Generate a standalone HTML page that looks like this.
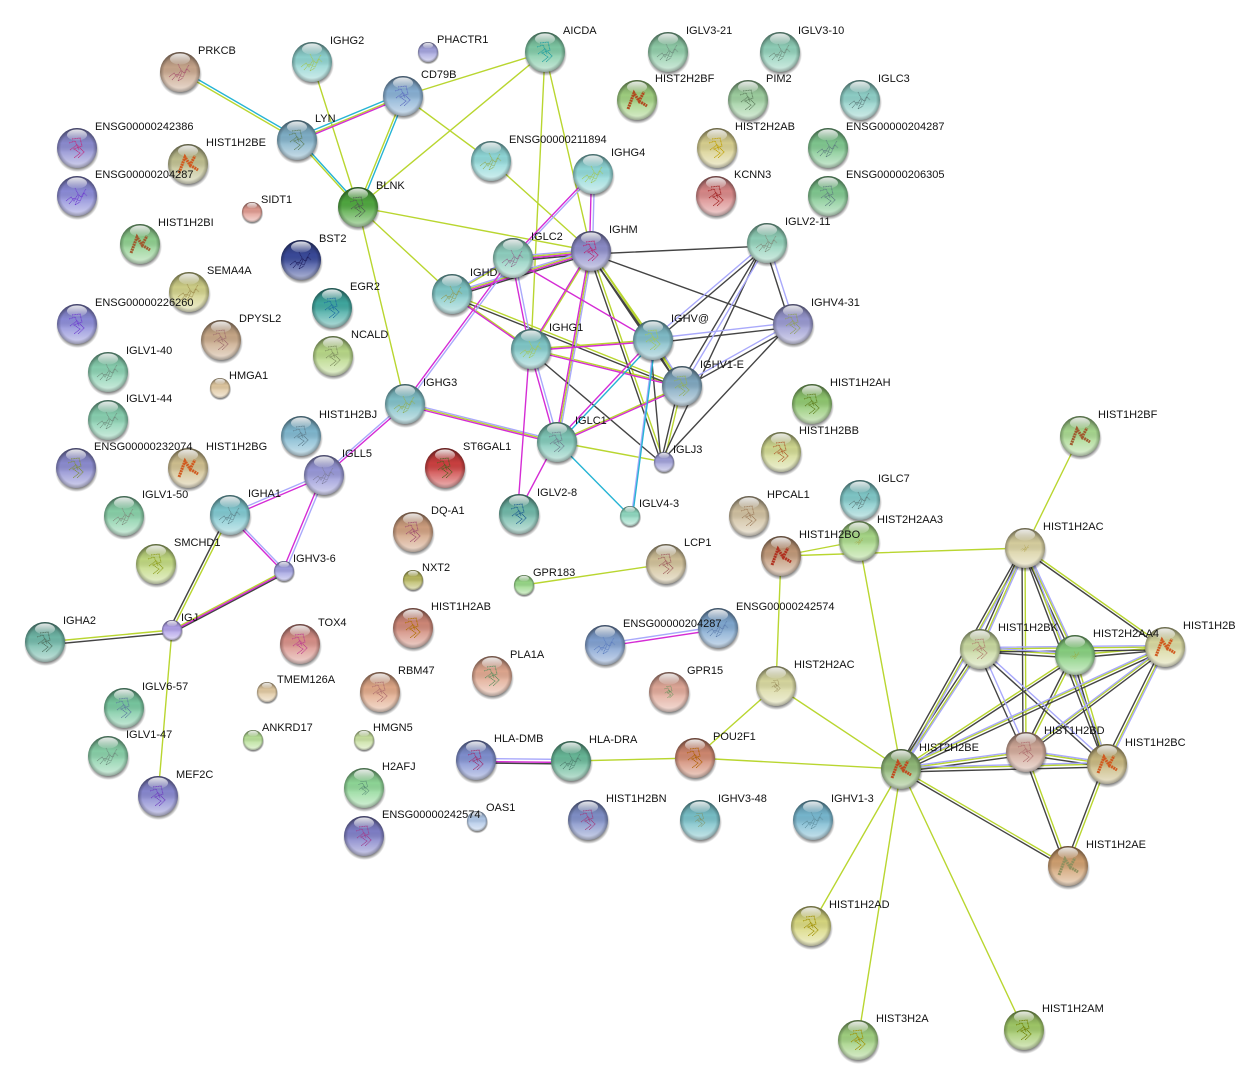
<!DOCTYPE html>
<html><head><meta charset="utf-8"><style>
html,body{margin:0;padding:0;background:#fff}
svg{display:block}
text{font:11px "Liberation Sans",Arial,sans-serif;fill:#111}
path.e{fill:none;stroke-width:1.4}
</style></head><body>
<svg width="1235" height="1085" viewBox="0 0 1235 1085" xmlns="http://www.w3.org/2000/svg">
<defs>
<linearGradient id="ov" x1="0" y1="0" x2="0" y2="1"><stop offset="0" stop-color="#000" stop-opacity=".34"/><stop offset=".38" stop-color="#000" stop-opacity=".02"/><stop offset=".6" stop-color="#fff" stop-opacity=".18"/><stop offset="1" stop-color="#fff" stop-opacity=".62"/></linearGradient>
<radialGradient id="rim" cx=".5" cy=".5" r=".5"><stop offset=".8" stop-color="#000" stop-opacity="0"/><stop offset="1" stop-color="#000" stop-opacity=".3"/></radialGradient>
<radialGradient id="sh" cx=".5" cy=".5" r=".5"><stop offset=".82" stop-color="#000" stop-opacity=".5"/><stop offset="1" stop-color="#000" stop-opacity="0"/></radialGradient>
<linearGradient id="hl" x1="0" y1="0" x2="0" y2="1"><stop offset="0" stop-color="#fff" stop-opacity=".85"/><stop offset="1" stop-color="#fff" stop-opacity=".12"/></linearGradient>
<g id="n"><circle cx=".5" cy="2.5" r="21.5" fill="url(#sh)"/><circle r="20" fill="currentColor"/><circle r="20" fill="url(#ov)"/><circle r="20" fill="url(#rim)"/><ellipse cy="-13" rx="10" ry="5.5" fill="url(#hl)"/></g>
<g id="s"><circle cx=".3" cy="1.5" r="11" fill="url(#sh)"/><circle r="10" fill="currentColor"/><circle r="10" fill="url(#ov)"/><circle r="10" fill="url(#rim)"/><ellipse cy="-6.5" rx="5" ry="2.8" fill="url(#hl)"/></g>
<path id="h" d="M-9 9-3-7 2 1 7-8M2 1 10 6" fill="none" stroke="currentColor" stroke-width="3" stroke-dasharray="2 .6"/>
<path id="p" d="M-11 5-6 1-3 5 1-2 4 1 9-7M-8 8-3 2 3 5 7-3 10 0M-2-8 2 0-2 9 3 6" fill="none" stroke="currentColor" stroke-width=".8" stroke-dasharray="1.1 .5"/>
<path id="q" d="M-5-9 3-10 5-2-3 1 3 5-3 10M-7 2 0-3 7 4 1 10M-8-5-2-7 2 2" fill="none" stroke="currentColor" stroke-width=".9" stroke-dasharray="1.1 .5"/>
</defs>

<!-- edges: green -->
<path class="e" stroke="#b9d630" d="M180 72 297 140M297 140 403 96M403 96 545 52M403 96 491 161M358 207 545 52M358 207 591 251M358 207 452 294M491 161 591 251M513 258 591 251M452 294 591 251M452 294 513 258M452 294 531 349M452 294 682 386M531 349 653 340M531 349 682 386M682 386 557 442M405 404 557 442M557 442 664 462M284 571 172 630M172 630 45 642M524 585 666 564M571 761 695 758M695 758 901 769M695 758 776 686M776 686 901 769M781 556 859 541M781 556 1025 548M1025 548 1165 647M980 649 1075 655M980 649 1165 647M1075 655 1165 647M1075 655 901 769M1165 647 1026 752M1165 647 901 769M1026 752 1107 764M1026 752 901 769M1107 764 901 769M901 769 1068 866"/>
<path class="e" stroke="#b9d630" d="M297 140 358 207M312 62 358 207M403 96 358 207M545 52 591 251M545 52 531 349M358 207 405 404M531 349 591 251M591 251 653 340M591 251 682 386M591 251 557 442M591 251 664 462M653 340 682 386M682 386 664 462M172 630 230 515M172 630 158 796M776 686 781 556M859 541 901 769M1080 436 1025 548M1025 548 980 649M1025 548 1075 655M1025 548 1026 752M1025 548 1107 764M1025 548 901 769M980 649 901 769M1075 655 1026 752M1075 655 1107 764M1165 647 1107 764M1026 752 1068 866M1107 764 1068 866M901 769 811 926M901 769 858 1040M901 769 1024 1030"/>
<!-- edges: black -->
<g transform="translate(0,3)"><path class="e" stroke="#444" d="M513 258 591 251M452 294 591 251M452 294 682 386M531 349 664 462M591 251 767 243M591 251 793 324M653 340 767 243M653 340 793 324M682 386 793 324M284 571 172 630M172 630 45 642M476 760 571 761M1025 548 1165 647M980 649 1075 655M980 649 1165 647M980 649 1107 764M1075 655 1165 647M1075 655 901 769M1165 647 1026 752M1165 647 901 769M1026 752 1107 764M1026 752 901 769M1107 764 901 769M901 769 1068 866"/></g>
<g transform="translate(-3,0)"><path class="e" stroke="#444" d="M591 251 653 340M591 251 682 386M591 251 664 462M653 340 682 386M653 340 664 462M682 386 767 243M682 386 664 462M767 243 793 324M767 243 664 462M793 324 664 462M172 630 230 515M1025 548 980 649M1025 548 1075 655M1025 548 1026 752M1025 548 1107 764M1025 548 901 769M980 649 1026 752M980 649 901 769M1075 655 1026 752M1075 655 1107 764M1165 647 1107 764M1026 752 1068 866M1107 764 1068 866"/></g>
<!-- edges: purple -->
<g transform="translate(0,-1.5)"><path class="e" stroke="#a9a9fb" d="M513 258 591 251M452 294 591 251M452 294 513 258M653 340 767 243M653 340 793 324M682 386 793 324M405 404 557 442M405 404 324 475M230 515 324 475M718 628 605 645M476 760 571 761M980 649 1075 655M980 649 1165 647M980 649 1107 764M1165 647 1026 752M1165 647 901 769M1026 752 1107 764M1026 752 901 769M1107 764 901 769"/></g>
<g transform="translate(1.5,0)"><path class="e" stroke="#a9a9fb" d="M593 174 591 251M513 258 593 174M513 258 531 349M513 258 405 404M531 349 557 442M591 251 557 442M653 340 682 386M653 340 630 516M682 386 767 243M767 243 793 324M324 475 284 571M230 515 284 571M1025 548 980 649M1025 548 1075 655M1025 548 1107 764M1025 548 901 769M980 649 1026 752M980 649 901 769M1165 647 1107 764"/></g>
<!-- edges: magenta -->
<g transform="translate(0,1.5)"><path class="e" stroke="#d52cd5" d="M297 140 403 96M513 258 591 251M452 294 591 251M452 294 531 349M513 258 653 340M531 349 653 340M531 349 682 386M682 386 557 442M405 404 557 442M405 404 324 475M230 515 324 475M284 571 172 630M718 628 605 645M476 760 571 761"/></g>
<g transform="translate(-1.5,0)"><path class="e" stroke="#d52cd5" d="M593 174 591 251M513 258 593 174M513 258 531 349M513 258 405 404M531 349 591 251M531 349 557 442M531 349 519 514M591 251 557 442M653 340 557 442M557 442 519 514M324 475 284 571M230 515 284 571"/></g>
<!-- edges: cyan -->
<g transform="translate(0,-3)"><path class="e" stroke="#26b4d4" d="M180 72 297 140M297 140 403 96"/></g>
<path class="e" stroke="#26b4d4" d="M557 442 630 516"/>
<g transform="translate(2.6,0)"><path class="e" stroke="#26b4d4" d="M297 140 358 207M403 96 358 207M653 340 557 442M653 340 630 516"/></g>

<!-- nodes -->
<use href="#n" x="180" y="72" color="#c8a68c"/><use href="#p" x="180" y="72" color="#a85a70"/>
<use href="#n" x="312" y="62" color="#8fd3d0"/><use href="#p" x="312" y="62" color="#a0c860"/>
<use href="#s" x="428" y="52" color="#a3a3dd"/>
<use href="#n" x="545" y="52" color="#7fc9a5"/><use href="#q" x="545" y="52" color="#20a0a0"/>
<use href="#n" x="668" y="52" color="#8fcca8"/><use href="#p" x="668" y="52" color="#709080"/>
<use href="#n" x="780" y="52" color="#8fcfb8"/><use href="#p" x="780" y="52" color="#709080"/>
<use href="#n" x="637" y="100" color="#a0d080"/><use href="#h" x="637" y="100" color="#b04a20"/>
<use href="#n" x="748" y="100" color="#9ecfa0"/><use href="#q" x="748" y="100" color="#608060"/>
<use href="#n" x="860" y="100" color="#8fd0c8"/><use href="#p" x="860" y="100" color="#608080"/>
<use href="#n" x="403" y="96" color="#88b0d4"/><use href="#q" x="403" y="96" color="#6070c0"/>
<use href="#n" x="297" y="140" color="#80b0c8"/><use href="#q" x="297" y="140" color="#608060"/>
<use href="#n" x="77" y="148" color="#8c8cd0"/><use href="#q" x="77" y="148" color="#c03080"/>
<use href="#n" x="188" y="164" color="#c0c090"/><use href="#h" x="188" y="164" color="#d05a20"/>
<use href="#n" x="77" y="196" color="#8c8cd8"/><use href="#p" x="77" y="196" color="#7040d0"/>
<use href="#n" x="491" y="161" color="#90d8d8"/><use href="#p" x="491" y="161" color="#90b060"/>
<use href="#n" x="593" y="174" color="#90d8d8"/><use href="#p" x="593" y="174" color="#a0c860"/>
<use href="#n" x="717" y="148" color="#d8d090"/><use href="#q" x="717" y="148" color="#c0a000"/>
<use href="#n" x="828" y="148" color="#80c890"/><use href="#p" x="828" y="148" color="#608080"/>
<use href="#n" x="716" y="196" color="#d88888"/><use href="#q" x="716" y="196" color="#a02020"/>
<use href="#n" x="828" y="196" color="#80c890"/><use href="#q" x="828" y="196" color="#608080"/>
<use href="#n" x="358" y="207" color="#50a840"/><use href="#q" x="358" y="207" color="#506050"/>
<use href="#s" x="252" y="212" color="#e09a90"/>
<use href="#n" x="140" y="244" color="#8fcf8f"/><use href="#h" x="140" y="244" color="#a05a30"/>
<use href="#n" x="301" y="260" color="#3a4a9a"/><use href="#p" x="301" y="260" color="#202060"/>
<use href="#n" x="513" y="258" color="#90d0c0"/><use href="#p" x="513" y="258" color="#907090"/>
<use href="#n" x="591" y="251" color="#8c8cc8"/><use href="#q" x="591" y="251" color="#c02070"/>
<use href="#n" x="767" y="243" color="#90d0b8"/><use href="#p" x="767" y="243" color="#809080"/>
<use href="#n" x="189" y="292" color="#d0d088"/><use href="#p" x="189" y="292" color="#a09050"/>
<use href="#n" x="77" y="324" color="#8c8cd8"/><use href="#q" x="77" y="324" color="#7040d0"/>
<use href="#n" x="332" y="308" color="#40a8a0"/><use href="#q" x="332" y="308" color="#2070a0"/>
<use href="#n" x="452" y="294" color="#80c8c8"/><use href="#p" x="452" y="294" color="#90a060"/>
<use href="#n" x="793" y="324" color="#9898d0"/><use href="#q" x="793" y="324" color="#90a060"/>
<use href="#n" x="221" y="340" color="#c8a888"/><use href="#q" x="221" y="340" color="#a07070"/>
<use href="#n" x="333" y="356" color="#b8d888"/><use href="#q" x="333" y="356" color="#809060"/>
<use href="#n" x="531" y="349" color="#80c8c8"/><use href="#p" x="531" y="349" color="#a0c860"/>
<use href="#n" x="653" y="340" color="#80bcc8"/><use href="#q" x="653" y="340" color="#a0c860"/>
<use href="#n" x="108" y="372" color="#88d0b0"/><use href="#p" x="108" y="372" color="#709080"/>
<use href="#s" x="220" y="388" color="#e0c8a0"/>
<use href="#n" x="682" y="386" color="#80a8c0"/><use href="#q" x="682" y="386" color="#90b060"/>
<use href="#n" x="812" y="404" color="#90c870"/><use href="#q" x="812" y="404" color="#608020"/>
<use href="#n" x="108" y="420" color="#88d0b0"/><use href="#p" x="108" y="420" color="#709080"/>
<use href="#n" x="405" y="404" color="#80c0c8"/><use href="#p" x="405" y="404" color="#90b060"/>
<use href="#n" x="301" y="436" color="#80b8d0"/><use href="#q" x="301" y="436" color="#608090"/>
<use href="#n" x="557" y="442" color="#80c8b8"/><use href="#q" x="557" y="442" color="#708090"/>
<use href="#n" x="781" y="452" color="#d0d890"/><use href="#q" x="781" y="452" color="#b06030"/>
<use href="#n" x="1080" y="436" color="#a8d890"/><use href="#h" x="1080" y="436" color="#a05a30"/>
<use href="#n" x="76" y="468" color="#8c8cd0"/><use href="#q" x="76" y="468" color="#809040"/>
<use href="#n" x="188" y="468" color="#d0c090"/><use href="#h" x="188" y="468" color="#d05a20"/>
<use href="#n" x="445" y="468" color="#cc4040"/><use href="#q" x="445" y="468" color="#506020"/>
<use href="#n" x="324" y="475" color="#9898d8"/><use href="#p" x="324" y="475" color="#8080a0"/>
<use href="#s" x="664" y="462" color="#a0a0d8"/>
<use href="#n" x="124" y="516" color="#88d0a8"/><use href="#p" x="124" y="516" color="#809080"/>
<use href="#n" x="230" y="515" color="#80c8d0"/><use href="#p" x="230" y="515" color="#608890"/>
<use href="#n" x="519" y="514" color="#70b8a8"/><use href="#q" x="519" y="514" color="#206090"/>
<use href="#s" x="630" y="516" color="#90d8c0"/>
<use href="#n" x="749" y="516" color="#d0c0a0"/><use href="#q" x="749" y="516" color="#a08060"/>
<use href="#n" x="860" y="500" color="#80c8c8"/><use href="#p" x="860" y="500" color="#608080"/>
<use href="#n" x="781" y="556" color="#c09878"/><use href="#h" x="781" y="556" color="#b03020"/>
<use href="#n" x="859" y="541" color="#a8d888"/><use href="#p" x="859" y="541" transform="translate(859 541) scale(.4) translate(-859 -541)" color="#a09020"/>
<use href="#n" x="1025" y="548" color="#d8d0a0"/><use href="#p" x="1025" y="548" transform="translate(1025 548) scale(.4) translate(-1025 -548)" color="#a09020"/>
<use href="#n" x="413" y="532" color="#d0a080"/><use href="#q" x="413" y="532" color="#a05070"/>
<use href="#n" x="156" y="564" color="#c0d880"/><use href="#q" x="156" y="564" color="#90a020"/>
<use href="#n" x="666" y="564" color="#d0c098"/><use href="#q" x="666" y="564" color="#a06060"/>
<use href="#s" x="284" y="571" color="#a0a0e0"/>
<use href="#s" x="413" y="580" color="#b8b860"/>
<use href="#s" x="524" y="585" color="#98d888"/>
<use href="#n" x="718" y="628" color="#80a8d0"/><use href="#p" x="718" y="628" color="#6080b0"/>
<use href="#n" x="605" y="645" color="#80a0d0"/><use href="#p" x="605" y="645" color="#6080c0"/>
<use href="#s" x="172" y="630" color="#b0a0e8"/>
<use href="#n" x="45" y="642" color="#70b8a8"/><use href="#q" x="45" y="642" color="#507060"/>
<use href="#n" x="300" y="644" color="#d89088"/><use href="#q" x="300" y="644" color="#c04090"/>
<use href="#n" x="413" y="628" color="#d08878"/><use href="#q" x="413" y="628" color="#b07000"/>
<use href="#n" x="980" y="649" color="#c8d8a0"/><use href="#q" x="980" y="649" color="#b08070"/>
<use href="#n" x="1075" y="655" color="#88d080"/><use href="#p" x="1075" y="655" transform="translate(1075 655) scale(.45) translate(-1075 -655)" color="#a0a020"/>
<use href="#n" x="1165" y="647" color="#d8d8a0"/><use href="#h" x="1165" y="647" color="#d05a20"/>
<use href="#n" x="492" y="676" color="#e0a890"/><use href="#q" x="492" y="676" color="#609060"/>
<use href="#n" x="669" y="692" color="#e0a898"/><use href="#q" x="669" y="692" transform="translate(669 692) scale(.6) translate(-669 -692)" color="#509050"/>
<use href="#n" x="380" y="692" color="#e0a888"/><use href="#q" x="380" y="692" color="#b07070"/>
<use href="#s" x="267" y="692" color="#e0c8a0"/>
<use href="#n" x="776" y="686" color="#d8d8a0"/><use href="#q" x="776" y="686" transform="translate(776 686) scale(.6) translate(-776 -686)" color="#908050"/>
<use href="#n" x="124" y="708" color="#78c8a0"/><use href="#q" x="124" y="708" color="#6080a0"/>
<use href="#s" x="253" y="740" color="#b8e098"/>
<use href="#s" x="364" y="740" color="#c8e0a0"/>
<use href="#n" x="108" y="756" color="#88d0a8"/><use href="#p" x="108" y="756" color="#709080"/>
<use href="#n" x="476" y="760" color="#8090d0"/><use href="#q" x="476" y="760" color="#a03070"/>
<use href="#n" x="571" y="761" color="#68b898"/><use href="#p" x="571" y="761" color="#508070"/>
<use href="#n" x="695" y="758" color="#d08870"/><use href="#q" x="695" y="758" color="#b06000"/>
<use href="#n" x="1026" y="752" color="#d0a898"/><use href="#q" x="1026" y="752" color="#b07070"/>
<use href="#n" x="901" y="769" color="#90b878"/><use href="#h" x="901" y="769" color="#c04a20"/>
<use href="#n" x="1107" y="764" color="#c8b880"/><use href="#h" x="1107" y="764" color="#d05a20"/>
<use href="#n" x="364" y="788" color="#90d898"/><use href="#q" x="364" y="788" transform="translate(364 788) scale(.7) translate(-364 -788)" color="#508070"/>
<use href="#n" x="158" y="796" color="#8888d0"/><use href="#q" x="158" y="796" color="#7040c0"/>
<use href="#n" x="588" y="820" color="#8090c8"/><use href="#q" x="588" y="820" color="#a04080"/>
<use href="#n" x="700" y="820" color="#78c0c8"/><use href="#q" x="700" y="820" transform="translate(700 820) scale(.7) translate(-700 -820)" color="#809060"/>
<use href="#n" x="813" y="820" color="#78b8d0"/><use href="#p" x="813" y="820" color="#6090a0"/>
<use href="#s" x="477" y="821" color="#b0c8e8"/>
<use href="#n" x="364" y="836" color="#8080c8"/><use href="#q" x="364" y="836" color="#a04090"/>
<use href="#n" x="1068" y="866" color="#d0a070"/><use href="#h" x="1068" y="866" color="#909060"/>
<use href="#n" x="811" y="926" color="#d8d880"/><use href="#q" x="811" y="926" color="#a09000"/>
<use href="#n" x="858" y="1040" color="#a0d080"/><use href="#q" x="858" y="1040" color="#a09000"/>
<use href="#n" x="1024" y="1030" color="#a0c868"/><use href="#q" x="1024" y="1030" color="#708000"/>

<!-- labels -->
<text x="198" y="54">PRKCB</text><text x="330" y="44">IGHG2</text><text x="437" y="43">PHACTR1</text><text x="563" y="34">AICDA</text>
<text x="686" y="34">IGLV3-21</text><text x="798" y="34">IGLV3-10</text><text x="655" y="82">HIST2H2BF</text><text x="766" y="82">PIM2</text><text x="878" y="82">IGLC3</text>
<text x="421" y="78">CD79B</text><text x="315" y="122">LYN</text><text x="95" y="130">ENSG00000242386</text><text x="206" y="146">HIST1H2BE</text><text x="95" y="178">ENSG00000204287</text>
<text x="509" y="143">ENSG00000211894</text><text x="611" y="156">IGHG4</text><text x="735" y="130">HIST2H2AB</text><text x="846" y="130">ENSG00000204287</text><text x="734" y="178">KCNN3</text><text x="846" y="178">ENSG00000206305</text>
<text x="376" y="189">BLNK</text><text x="261" y="203">SIDT1</text><text x="158" y="226">HIST1H2BI</text><text x="319" y="242">BST2</text><text x="531" y="240">IGLC2</text><text x="609" y="233">IGHM</text><text x="785" y="225">IGLV2-11</text>
<text x="207" y="274">SEMA4A</text><text x="95" y="306">ENSG00000226260</text><text x="350" y="290">EGR2</text><text x="470" y="276">IGHD</text><text x="811" y="306">IGHV4-31</text><text x="239" y="322">DPYSL2</text><text x="351" y="338">NCALD</text>
<text x="549" y="331">IGHG1</text><text x="671" y="322">IGHV@</text><text x="126" y="354">IGLV1-40</text><text x="229" y="379">HMGA1</text><text x="700" y="368">IGHV1-E</text><text x="830" y="386">HIST1H2AH</text><text x="126" y="402">IGLV1-44</text>
<text x="423" y="386">IGHG3</text><text x="319" y="418">HIST1H2BJ</text><text x="575" y="424">IGLC1</text><text x="799" y="434">HIST1H2BB</text><text x="1098" y="418">HIST1H2BF</text><text x="94" y="450">ENSG00000232074</text><text x="206" y="450">HIST1H2BG</text>
<text x="463" y="450">ST6GAL1</text><text x="342" y="457">IGLL5</text><text x="673" y="453">IGLJ3</text><text x="142" y="498">IGLV1-50</text><text x="248" y="497">IGHA1</text><text x="537" y="496">IGLV2-8</text><text x="639" y="507">IGLV4-3</text><text x="767" y="498">HPCAL1</text>
<text x="878" y="482">IGLC7</text><text x="877" y="523">HIST2H2AA3</text><text x="799" y="538">HIST1H2BO</text><text x="1043" y="530">HIST1H2AC</text><text x="431" y="514">DQ-A1</text><text x="174" y="546">SMCHD1</text><text x="684" y="546">LCP1</text>
<text x="293" y="562">IGHV3-6</text><text x="422" y="571">NXT2</text><text x="533" y="576">GPR183</text><text x="736" y="610">ENSG00000242574</text><text x="623" y="627">ENSG00000204287</text><text x="181" y="621">IGJ</text><text x="63" y="624">IGHA2</text>
<text x="318" y="626">TOX4</text><text x="431" y="610">HIST1H2AB</text><text x="998" y="631">HIST1H2BK</text><text x="1093" y="637">HIST2H2AA4</text><text x="1183" y="629">HIST1H2B</text><text x="510" y="658">PLA1A</text><text x="687" y="674">GPR15</text>
<text x="398" y="674">RBM47</text><text x="277" y="683">TMEM126A</text><text x="794" y="668">HIST2H2AC</text><text x="142" y="690">IGLV6-57</text><text x="262" y="731">ANKRD17</text><text x="373" y="731">HMGN5</text><text x="126" y="738">IGLV1-47</text>
<text x="494" y="742">HLA-DMB</text><text x="589" y="743">HLA-DRA</text><text x="713" y="740">POU2F1</text><text x="1044" y="734">HIST1H2BD</text><text x="919" y="751">HIST2H2BE</text><text x="1125" y="746">HIST1H2BC</text>
<text x="382" y="770">H2AFJ</text><text x="176" y="778">MEF2C</text><text x="606" y="802">HIST1H2BN</text><text x="718" y="802">IGHV3-48</text><text x="831" y="802">IGHV1-3</text><text x="486" y="811">OAS1</text><text x="382" y="818">ENSG00000242574</text>
<text x="1086" y="848">HIST1H2AE</text><text x="829" y="908">HIST1H2AD</text><text x="876" y="1022">HIST3H2A</text><text x="1042" y="1012">HIST1H2AM</text>
</svg>
</body></html>
